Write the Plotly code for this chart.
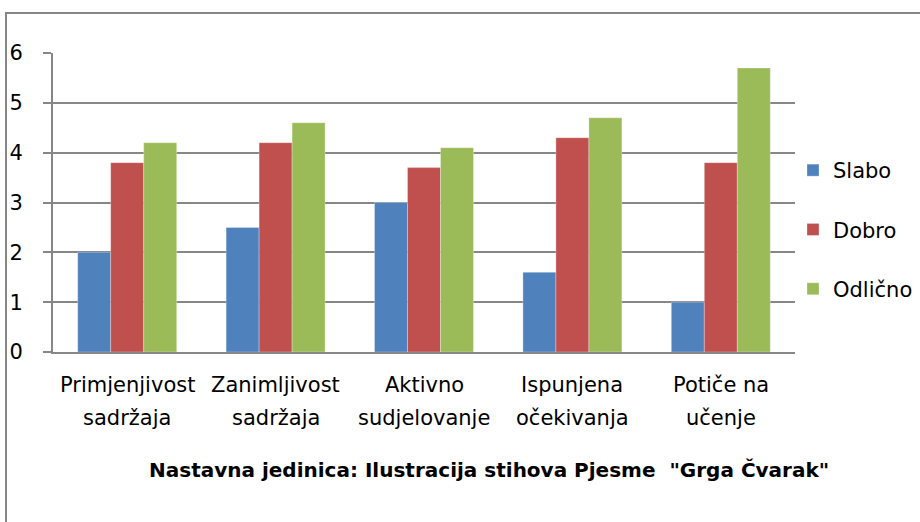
import plotly.graph_objects as go

# Survey categories (two-line labels) and grades per series
categories = ["Primjenjivost sadržaja", "Zanimljivost sadržaja", "Aktivno sudjelovanje",
              "Ispunjena očekivanja", "Potiče na učenje"]
label_line1 = ["Primjenjivost", "Zanimljivost", "Aktivno", "Ispunjena", "Potiče na"]
label_line2 = ["sadržaja", "sadržaja", "sudjelovanje", "očekivanja", "učenje"]
slabo = [2, 2.5, 3, 1.6, 1]
dobro = [3.8, 4.2, 3.7, 4.3, 3.8]
odlicno = [4.2, 4.6, 4.1, 4.7, 5.7]
y_ticks = [0, 1, 2, 3, 4, 5, 6]

series = [("Slabo", slabo, "#4F81BD"), ("Dobro", dobro, "#C0504D"), ("Odlično", odlicno, "#9BBB59")]

FONT = "DejaVu Sans"
FS = 21
GRID = "#878787"

fig = go.Figure()
for name, vals, col in series:
    fig.add_trace(go.Bar(
        x=categories, y=vals, name=name, legendgroup=name,
        marker=dict(color=col, line=dict(color="rgba(255,255,255,0.5)", width=0.6)),
    ))

W, H = 920, 522
ml, mr, mt, mb = 53, 125, 53, 170
pw, ph = W - ml - mr, H - mt - mb

def px(x):
    return (x - ml) / pw

def py(y):
    return (H - mb - y) / ph

annotations = []
for cat, l1, l2 in zip(categories, label_line1, label_line2):
    annotations.append(dict(x=cat, xref="x", y=py(385), yref="paper", text=l1, showarrow=False,
                            font=dict(family=FONT, size=FS, color="#000"), yanchor="middle"))
    annotations.append(dict(x=cat, xref="x", y=py(418), yref="paper", text=l2, showarrow=False,
                            font=dict(family=FONT, size=FS, color="#000"), yanchor="middle"))
annotations.append(dict(x=px(489), xref="paper", y=py(470), yref="paper",
                        text='<b>Nastavna jedinica: Ilustracija stihova Pjesme  "Grga Čvarak"</b>',
                        showarrow=False, font=dict(family=FONT, size=20, color="#000"),
                        yanchor="middle", xanchor="center"))

fig.update_layout(
    width=W, height=H,
    margin=dict(l=ml, r=mr, t=mt, b=mb, autoexpand=False),
    paper_bgcolor="white", plot_bgcolor="white",
    barmode="group", bargap=0.333, bargroupgap=0,
    font=dict(family=FONT, size=FS, color="#000"),
    xaxis=dict(showticklabels=False, showgrid=False, showline=True, linecolor=GRID, linewidth=2,
               ticks="", zeroline=False),
    yaxis=dict(range=[0, 6], tickvals=y_ticks, showgrid=True, gridcolor=GRID, gridwidth=2,
               showline=True, linecolor=GRID, linewidth=2, ticks="outside", ticklen=8,
               tickcolor=GRID, tickwidth=2, zeroline=False, ticklabelstandoff=16,
               tickfont=dict(family=FONT, size=FS, color="#000")),
    legend=dict(x=px(793), y=py(150), xanchor="left", yanchor="top", tracegroupgap=29,
                font=dict(family=FONT, size=FS, color="#000"), itemwidth=30,
                bgcolor="rgba(0,0,0,0)"),
    annotations=annotations,
    shapes=[dict(type="rect", xref="paper", yref="paper", x0=px(6), x1=px(940), y0=py(540), y1=py(13),
                 line=dict(color="#868686", width=2), fillcolor="rgba(0,0,0,0)", layer="below")],
    showlegend=True,
)

fig.write_html("out.html")
